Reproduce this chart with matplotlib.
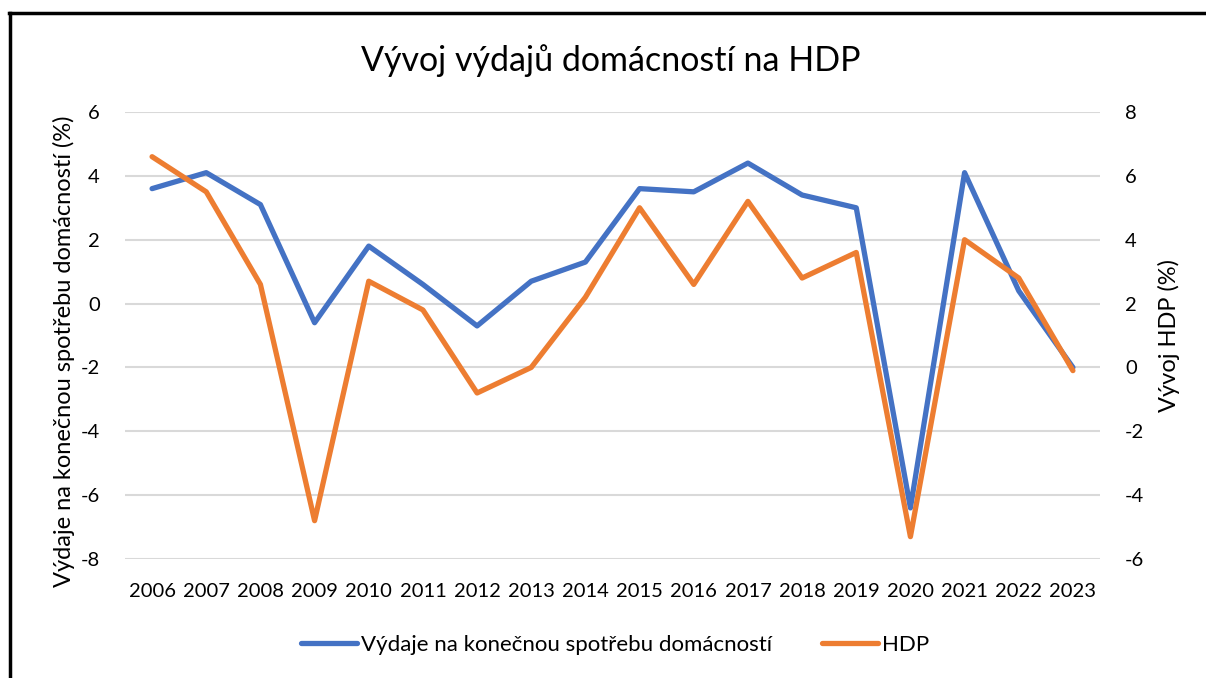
import matplotlib
matplotlib.use("Agg")
import matplotlib.pyplot as plt
from matplotlib.lines import Line2D

plt.rcParams['font.family'] = ['Lato', 'DejaVu Sans']

years = ["2006", "2007", "2008", "2009", "2010", "2011", "2012", "2013", "2014",
         "2015", "2016", "2017", "2018", "2019", "2020", "2021", "2022", "2023"]
spotreba = [3.6, 4.1, 3.1, -0.6, 1.8, 0.6, -0.7, 0.7, 1.3,
            3.6, 3.5, 4.4, 3.4, 3.0, -6.4, 4.1, 0.4, -2.0]
hdp = [6.6, 5.5, 2.6, -4.8, 2.7, 1.8, -0.8, 0.0, 2.2,
       5.0, 2.6, 5.2, 2.8, 3.6, -5.3, 4.0, 2.8, -0.1]

left_ticks = [-8, -6, -4, -2, 0, 2, 4, 6]
right_ticks = [-6, -4, -2, 0, 2, 4, 6, 8]

title = "Vývoj výdajů domácností na HDP"
label_left = "Výdaje na konečnou spotřebu domácností (%)"
label_right = "Vývoj HDP (%)"
name_left = "Výdaje na konečnou spotřebu domácností"
name_right = "HDP"

BLUE = "#4472C4"
ORANGE = "#ED7D31"
GRID = "#D9D9D9"

W, H = 1206, 678
fig = plt.figure(figsize=(W / 100, H / 100), dpi=100)
ax = fig.add_axes([125 / W, 1 - 559 / H, (1100 - 125) / W, (559 - 112) / H])
ax2 = ax.twinx()

x = list(range(len(years)))
ax.set_xlim(-0.5, len(years) - 0.5)
ax.set_ylim(-8, 6)
ax2.set_ylim(-6, 8)

for t in left_ticks:
    ax.axhline(t, color=GRID, lw=1.5, zorder=0)

l1, = ax.plot(x, spotreba, color=BLUE, lw=3.8, solid_joinstyle='round',
              solid_capstyle='round', zorder=3)
l2, = ax2.plot(x, hdp, color=ORANGE, lw=3.8, solid_joinstyle='round',
               solid_capstyle='round', zorder=3)

ax.set_xticks(x)
ax.set_xticklabels(years)
ax.set_yticks(left_ticks)
ax.set_yticklabels([str(t) for t in left_ticks])
ax2.set_yticks(right_ticks)
ax2.set_yticklabels([str(t) for t in right_ticks])

ax.tick_params(axis='x', length=0, pad=17, labelsize=14.5)
ax.tick_params(axis='y', length=0, pad=18, labelsize=14.5)
ax2.tick_params(axis='y', length=0, pad=18, labelsize=14.5)
for a in (ax, ax2):
    for s in a.spines.values():
        s.set_visible(False)
ax.patch.set_visible(False)

fig.text(611 / W, 1 - 61 / H, title, ha='center', va='center', fontsize=24.5)
fig.text(64 / W, 1 - 351 / H, label_left, rotation=90, ha='center', va='center', fontsize=17)
fig.text(1169 / W, 1 - 336 / H, label_right, rotation=90, ha='center', va='center', fontsize=17)

h1 = Line2D([], [], color=BLUE, lw=3.8, solid_capstyle='round')
h2 = Line2D([], [], color=ORANGE, lw=3.8, solid_capstyle='round')
fig.legend([h1, h2], [name_left, name_right], loc='center',
           bbox_to_anchor=(615 / W, 1 - 645 / H), ncol=2, frameon=False,
           fontsize=16, handlelength=2.5, handletextpad=0.18, columnspacing=2.25)

# chart border (partially visible in the reference)
fig.add_artist(Line2D([10 / W, 10 / W], [0, 1 - 13 / H], color='black', lw=2.5,
                      transform=fig.transFigure))
fig.add_artist(Line2D([9 / W, 1], [1 - 13 / H, 1 - 13 / H], color='black', lw=2.5,
                      transform=fig.transFigure))

fig.savefig("out.png", dpi=100)
